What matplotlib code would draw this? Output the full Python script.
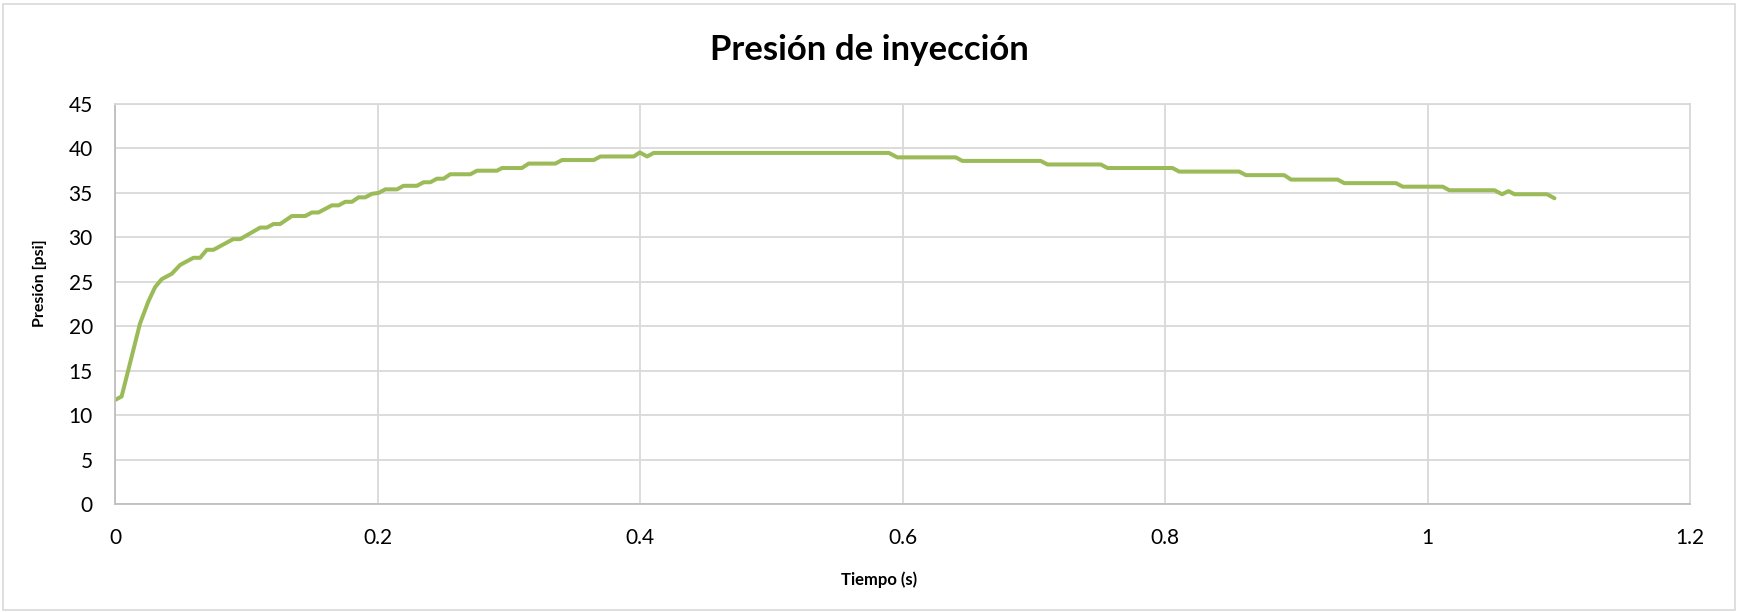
import matplotlib.pyplot as plt
from matplotlib.patches import Rectangle

# tiempo (s) y presion (psi)
tiempo = [0.000, 0.005, 0.0127, 0.019, 0.0254, 0.0305, 0.0356, 0.0432, 0.0496,
          0.0597, 0.0648, 0.0699, 0.075, 0.090, 0.0953, 0.1106, 0.1157, 0.1207,
          0.1258, 0.1347, 0.1449, 0.150, 0.155, 0.1652, 0.1703, 0.1754, 0.1805,
          0.1855, 0.1906, 0.1957, 0.2008, 0.2059, 0.2148, 0.2198, 0.230, 0.2351,
          0.2402, 0.2453, 0.2503, 0.2554, 0.2707, 0.2758, 0.2910, 0.2948, 0.310,
          0.3151, 0.3355, 0.3406, 0.3647, 0.3698, 0.3952, 0.3998, 0.4054, 0.4104,
          0.5896, 0.596, 0.6405, 0.6456, 0.7053, 0.7104, 0.751, 0.7562, 0.8057,
          0.8108, 0.8565, 0.8616, 0.8908, 0.896, 0.9315, 0.9366, 0.976, 0.9811,
          1.0116, 1.0166, 1.051, 1.0568, 1.0617, 1.0663, 1.0911, 1.0967]
presion = [11.7, 12.1, 16.6, 20.3, 22.8, 24.4, 25.3, 25.9, 26.9,
           27.7, 27.7, 28.6, 28.6, 29.8, 29.8, 31.1, 31.1, 31.5,
           31.5, 32.4, 32.4, 32.8, 32.8, 33.6, 33.6, 34.0, 34.0,
           34.5, 34.5, 34.9, 35.0, 35.4, 35.4, 35.8, 35.8, 36.2,
           36.2, 36.6, 36.6, 37.1, 37.1, 37.5, 37.5, 37.8, 37.8,
           38.3, 38.3, 38.7, 38.7, 39.1, 39.1, 39.55, 39.1, 39.5,
           39.5, 39.0, 39.0, 38.6, 38.6, 38.2, 38.2, 37.8, 37.8,
           37.4, 37.4, 37.0, 37.0, 36.5, 36.5, 36.1, 36.1, 35.7,
           35.7, 35.3, 35.3, 34.85, 35.2, 34.85, 34.85, 34.4]

x_ticks = [0, 0.2, 0.4, 0.6, 0.8, 1, 1.2]
x_labels = ["0", "0.2", "0.4", "0.6", "0.8", "1", "1.2"]
y_ticks = list(range(0, 50, 5))

plt.rcParams['font.family'] = ['Lato', 'DejaVu Sans']

fig = plt.figure(figsize=(17.38, 6.12), dpi=100)
ax = fig.add_axes([0.0662, 0.1765, 0.9062, 0.6535])

ax.plot(tiempo, presion, color="#9BBB59", linewidth=2.9, solid_capstyle="round")

ax.set_xlim(0, 1.2)
ax.set_ylim(0, 45)
ax.set_xticks(x_ticks)
ax.set_xticklabels(x_labels)
ax.set_yticks(y_ticks)
ax.grid(True, color="#D9D9D9", linewidth=1.3)
ax.set_axisbelow(True)
ax.tick_params(length=0, labelsize=15, colors="black")
ax.tick_params(axis="x", pad=17)
ax.tick_params(axis="y", pad=16)
for side in ["top", "right"]:
    ax.spines[side].set_color("#D9D9D9")
    ax.spines[side].set_linewidth(1.3)
for side in ["left", "bottom"]:
    ax.spines[side].set_color("#BFBFBF")
    ax.spines[side].set_linewidth(1.3)

ax.set_xlabel("Tiempo (s)", fontsize=12, fontweight="bold", va="center")
ax.xaxis.set_label_coords(0.4848, -0.19)
ax.set_ylabel("Presión [psi]", fontsize=11.5, fontweight="bold", va="center")
ax.yaxis.set_label_coords(-0.048, 0.5525)
fig.text(0.5, 0.918, "Presión de inyección", fontsize=25, fontweight="bold",
         ha="center", va="center")

fig.patches.append(Rectangle((0.0015, 0.004), 0.997, 0.99, transform=fig.transFigure,
                             fill=False, edgecolor="#D9D9D9", linewidth=1.2))

plt.savefig("out.png")
